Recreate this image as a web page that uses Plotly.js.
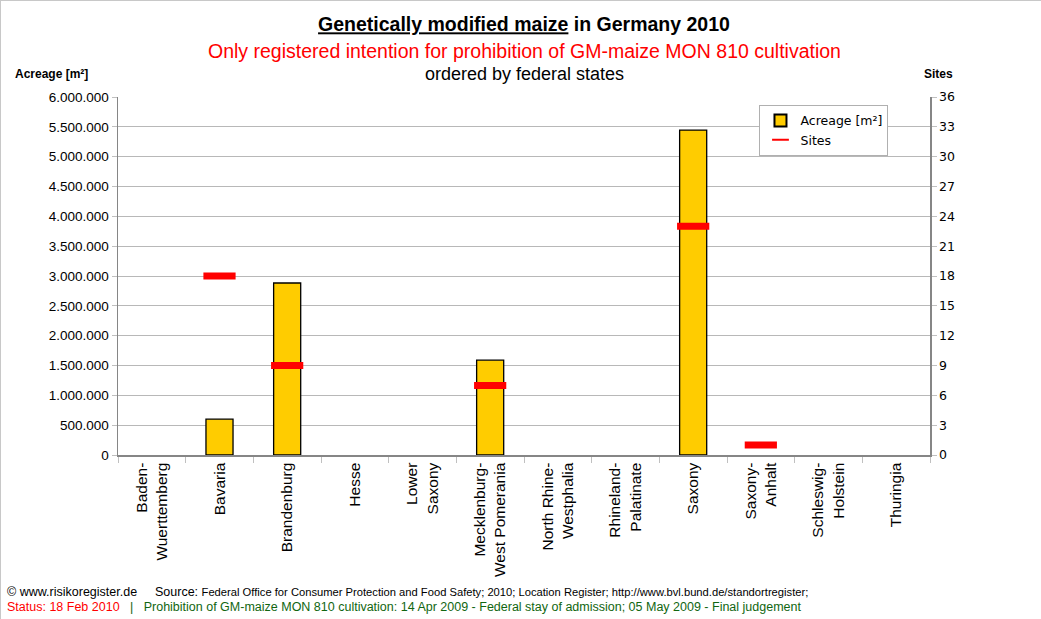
<!DOCTYPE html>
<html>
<head>
<meta charset="utf-8">
<script src="https://cdn.plot.ly/plotly-3.0.1.min.js"></script>
<style>
html,body{margin:0;padding:0;background:#fff;}
#chart{width:1041px;height:619px;box-sizing:border-box;border:1px solid #c8c8c8;}
</style>
</head>
<body>
<div id="chart"></div>
<script>
// ---- data ----
const states = [
  "Baden-<br>Wuerttemberg", "Bavaria", "Brandenburg", "Hesse", "Lower<br>Saxony",
  "Mecklenburg-<br>West Pomerania", "North Rhine-<br>Westphalia", "Rhineland-<br>Palatinate",
  "Saxony", "Saxony-<br>Anhalt", "Schleswig-<br>Holstein", "Thuringia"
];
const acreage = [0, 600000, 2883000, 0, 0, 1590000, 0, 0, 5445000, 0, 0, 0];
const sites = [null, 18, 9, null, null, 7, null, null, 23, 1, null, null];
const leftTicks = [0, 500000, 1000000, 1500000, 2000000, 2500000, 3000000, 3500000, 4000000, 4500000, 5000000, 5500000, 6000000];
const leftTickText = ["0", "500.000", "1.000.000", "1.500.000", "2.000.000", "2.500.000", "3.000.000",
  "3.500.000", "4.000.000", "4.500.000", "5.000.000", "5.500.000", "6.000.000"];
const rightTicks = [0, 3, 6, 9, 12, 15, 18, 21, 24, 27, 30, 33, 36];

const traces = [
  {
    type: "bar", name: "Acreage [m²]", x: states, y: acreage.map(v => v > 0 ? v : null),
    marker: {color: "#ffcc00", line: {color: "#000000", width: 1.3}},
    width: 0.4, yaxis: "y", hoverinfo: "x+y"
  },
  {
    type: "scatter", mode: "markers", name: "Sites", x: states, y: sites, yaxis: "y2",
    marker: {symbol: "line-ew-open", size: 23, color: "#ff0000", line: {color: "#ff0000", width: 7}},
    cliponaxis: false
  }
];

const font = "Arial, 'Liberation Sans', sans-serif";
const layout = {
  width: 1041, height: 619,
  margin: {l: 117, r: 112, t: 96, b: 165},
  paper_bgcolor: "#ffffff", plot_bgcolor: "#ffffff",
  showlegend: true,
  title: {
    text: "<u>Genetically modified maize</u> in Germany 2010",
    font: {family: font, size: 19.5, color: "#000000", weight: "bold"},
    x: 0.5, xref: "paper", xanchor: "center", y: 0.962, yanchor: "middle"
  },
  legend: {
    x: 0.79, y: 0.978, xanchor: "left", yanchor: "top",
    bgcolor: "#ffffff", bordercolor: "#b0b0b0", borderwidth: 1,
    font: {family: "'DejaVu Sans', Verdana, sans-serif", size: 12.5, color: "#000"},
    tracegroupgap: 2, itemwidth: 30, itemsizing: "constant"
  },
  xaxis: {
    type: "category", tickangle: -90, range: [-0.5, 11.5],
    tickfont: {family: font, size: 15.5, color: "#000"},
    showline: true, linecolor: "#868686", linewidth: 1.5,
    ticks: "outside", tickson: "boundaries", ticklen: 6, tickcolor: "#c0c0c0",
    showgrid: false, fixedrange: true
  },
  yaxis: {
    range: [0, 6000000], tickvals: leftTicks, ticktext: leftTickText,
    tickfont: {family: font, size: 13.5, color: "#000"},
    showline: true, linecolor: "#868686", linewidth: 1.5,
    ticks: "outside", ticklen: 5, tickcolor: "#c0c0c0",
    showgrid: true, gridcolor: "#b8b8b8", gridwidth: 1,
    zeroline: false, fixedrange: true
  },
  yaxis2: {
    overlaying: "y", side: "right", range: [0, 36], tickvals: rightTicks,
    tickfont: {family: "'DejaVu Sans', Tahoma, sans-serif", size: 12.5, color: "#000"},
    showline: true, linecolor: "#868686", linewidth: 1.5,
    ticks: "outside", ticklen: 5, tickcolor: "#c0c0c0",
    showgrid: false, zeroline: false, fixedrange: true
  },
  annotations: [
    {text: "Only registered intention for prohibition of GM-maize MON 810 cultivation",
      xref: "paper", yref: "paper", x: 0.5, y: 1, yshift: 46, xanchor: "center", yanchor: "middle",
      showarrow: false, font: {family: font, size: 19.5, color: "#ff0000"}},
    {text: "ordered by federal states",
      xref: "paper", yref: "paper", x: 0.5, y: 1, yshift: 23, xanchor: "center", yanchor: "middle",
      showarrow: false, font: {family: font, size: 18, color: "#000"}},
    {text: "<b>Acreage [m²]</b>",
      xref: "paper", yref: "paper", x: 0, xshift: -105, y: 1, yshift: 23, xanchor: "left", yanchor: "middle",
      showarrow: false, font: {family: font, size: 12, color: "#000"}},
    {text: "<b>Sites</b>",
      xref: "paper", yref: "paper", x: 1, xshift: -8, y: 1, yshift: 23, xanchor: "left", yanchor: "middle",
      showarrow: false, font: {family: font, size: 12, color: "#000"}},
    {text: "© www.risikoregister.de",
      xref: "paper", yref: "paper", x: 0, xshift: -113, y: 0, yshift: -137, xanchor: "left", yanchor: "middle",
      showarrow: false, font: {family: font, size: 12.5, color: "#000"}},
    {text: "Source: <span style='font-size:11.2px'>Federal Office for Consumer Protection and Food Safety; 2010; Location Register; http://www.bvl.bund.de/standortregister;</span>",
      xref: "paper", yref: "paper", x: 0, xshift: 35, y: 0, yshift: -137, xanchor: "left", yanchor: "middle",
      showarrow: false, font: {family: font, size: 12.5, color: "#000"}},
    {text: "<span style='color:#ff0000'>Status: 18 Feb 2010</span>   |   Prohibition of GM-maize MON 810 cultivation: 14 Apr 2009 - Federal stay of admission; 05 May 2009 - Final judgement",
      xref: "paper", yref: "paper", x: 0, xshift: -113, y: 0, yshift: -152, xanchor: "left", yanchor: "middle",
      showarrow: false, font: {family: font, size: 12.5, color: "#116611"}}
  ]
};

Plotly.newPlot("chart", traces, layout, {displayModeBar: false, staticPlot: true});
</script>
</body>
</html>
